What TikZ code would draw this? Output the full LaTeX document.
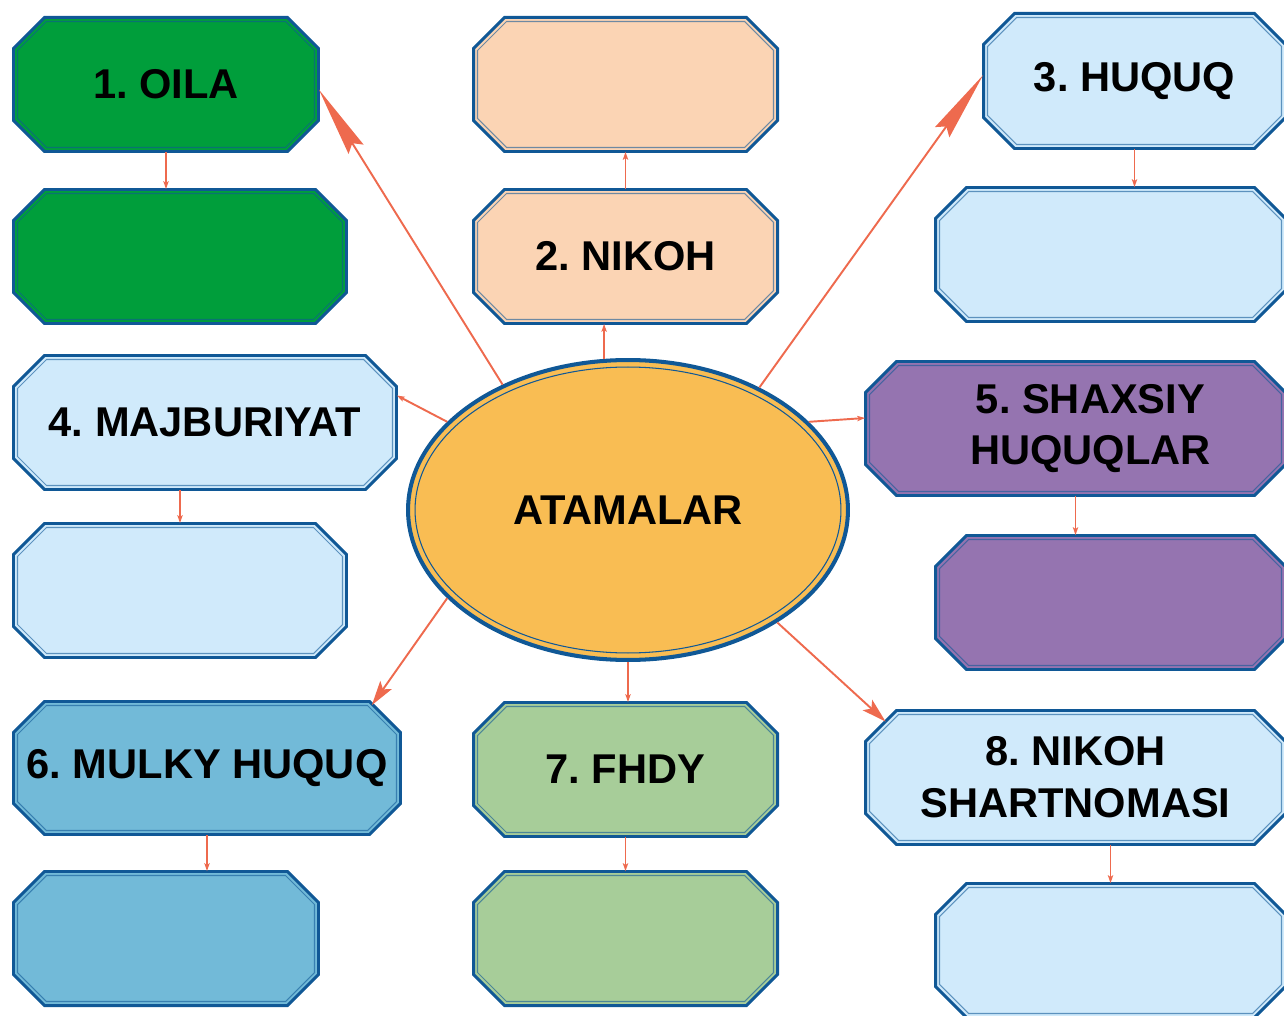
\documentclass[tikz,border=0pt]{standalone}
\usepackage{fontspec}
\setmainfont{Liberation Sans}
\usetikzlibrary{shapes.geometric,arrows.meta}

\definecolor{framecol}{RGB}{16,88,150}
\definecolor{linkcol}{RGB}{238,106,78}
\definecolor{oilacol}{RGB}{0,158,59}
\definecolor{nikohcol}{RGB}{251,212,180}
\definecolor{palecol}{RGB}{208,234,251}
\definecolor{shaxcol}{RGB}{149,116,176}
\definecolor{mulkcol}{RGB}{114,186,216}
\definecolor{fhdycol}{RGB}{167,205,153}
\definecolor{centrecol}{RGB}{249,189,83}

\tikzset{
  termframe/.style={draw=framecol, line width=1.7pt, line join=miter},
  termline/.style={draw=framecol, draw opacity=0.6, line width=0.6pt},
  termtext/.style={rectangle, inner sep=0pt, align=center,
    font=\fontsize{23.7}{29.5}\selectfont\bfseries\frenchspacing},
  centre/.style={ellipse, draw=framecol, line width=2.3pt, fill=centrecol,
    inner sep=0pt, font=\fontsize{23.7}{29.5}\selectfont\bfseries},
  centreline/.style={ellipse, draw=framecol, line width=0.6pt, inner sep=0pt},
  link/.style={draw=linkcol, line width=1.1pt},
  bigtip/.style={-{Stealth[length=40pt,width=10pt,inset=4pt]}},
  midtip/.style={-{Stealth[length=14pt,width=8pt,inset=3pt]}},
  smalltip/.style={-{Stealth[length=4.5pt,width=3pt,inset=1pt]}}
}

% octagon round (x,y): half width, half height, corner cut
\newcommand{\octpath}[5]{({#1-#3+#5},{#2-#4}) -- ({#1+#3-#5},{#2-#4})
  -- ({#1+#3},{#2-#4+#5}) -- ({#1+#3},{#2+#4-#5}) -- ({#1+#3-#5},{#2+#4})
  -- ({#1-#3+#5},{#2+#4}) -- ({#1-#3},{#2+#4-#5}) -- ({#1-#3},{#2-#4+#5}) -- cycle}

\newcommand{\termbox}[7]{%
  \filldraw[termframe, fill=#6] \octpath{#2}{#3}{(#4-3)/2}{(#5-3)/2}{31};
  \draw[termline] \octpath{#2}{#3}{(#4-11)/2}{(#5-11)/2}{29};
  \node[termtext, minimum width=(#4-3)*0.02cm,
    minimum height=(#5-3)*0.02cm] (#1) at (#2,#3) {#7};}

\begin{document}
\begin{tikzpicture}[x=0.02cm,y=-0.02cm]
        \useasboundingbox (0,0) rectangle (1284,1016);
        \clip (0,0) rectangle (1284,1016);

        \termbox{oila}{166}{84.5}{308}{137}{oilacol}{1. OILA}
        \termbox{oilab}{180}{256.5}{336}{137}{oilacol}{}
        \termbox{nikoht}{625.5}{84.5}{307}{137}{nikohcol}{}
        \termbox{nikoh}{625.5}{256.5}{307}{137}{nikohcol}{2. NIKOH}
        \termbox{huquq}{1134.5}{81}{305}{138}{palecol}{3. HUQUQ}
        \termbox{huquqb}{1110.5}{254.5}{353}{137}{palecol}{}
        \termbox{majb}{205}{422.5}{386}{137}{palecol}{4. MAJBURIYAT}
        \termbox{majbb}{180}{590.5}{336}{137}{palecol}{}
        \termbox{shax}{1075.5}{428.5}{423}{137}{shaxcol}{\hspace*{0.6cm}5. SHAXSIY\\\hspace*{0.6cm}HUQUQLAR}
        \termbox{shaxb}{1110.5}{602.5}{353}{137}{shaxcol}{}
        \termbox{mulk}{207}{768}{390}{136}{mulkcol}{6. MULKY HUQUQ}
        \termbox{mulkb}{166}{938.5}{308}{137}{mulkcol}{}
        \termbox{fhdy}{625.5}{769.5}{307}{137}{fhdycol}{7. FHDY}
        \termbox{fhdyb}{625.5}{938.5}{307}{137}{fhdycol}{}
        \termbox{shart}{1075.5}{777.5}{423}{137}{palecol}{8. NIKOH\\SHARTNOMASI}
        \termbox{shartb}{1110.5}{950.5}{353}{137}{palecol}{}

        \node[centre, minimum width=8.8cm, minimum height=6cm] (atama) at (628,510) {ATAMALAR};
        \node[centreline, minimum width=8.52cm, minimum height=5.72cm] (atamain) at (atama.center) {};

        \draw[link, bigtip] (atama.135) -- ([yshift=-0.1cm]oila.east);
        \draw[link, smalltip] (atama.99) -- (atama.99 |- nikoh.south);
        \draw[link, bigtip] (atama.43) -- ([yshift=0.12cm]huquq.west);
        \draw[link, smalltip] (atama.154) -- ([yshift=0.54cm]majb.east);
        \draw[link, smalltip] (atama.26) -- ([yshift=0.21cm]shax.west);
        \draw[link, midtip] (atama.206) -- ([xshift=-0.58cm,yshift=-0.08cm]mulk.north east);
        \draw[link, smalltip] (atama.south) -- (atama.south |- fhdy.north);
        \draw[link, midtip] (atama.323) -- ([xshift=0.41cm,yshift=-0.23cm]shart.north west);

        \draw[link, smalltip] (oila.south) -- (oila.south |- oilab.north);
        \draw[link, smalltip] (nikoh.north) -- (nikoht.south);
        \draw[link, smalltip] (huquq.south) -- (huquq.south |- huquqb.north);
        \draw[link, smalltip] (majbb.north |- majb.south) -- (majbb.north);
        \draw[link, smalltip] (shax.south) -- (shax.south |- shaxb.north);
        \draw[link, smalltip] (mulk.south) -- (mulk.south |- mulkb.north);
        \draw[link, smalltip] (fhdy.south) -- (fhdyb.north);
        \draw[link, smalltip] (shartb.north |- shart.south) -- (shartb.north);
    \end{tikzpicture}
\end{document}
